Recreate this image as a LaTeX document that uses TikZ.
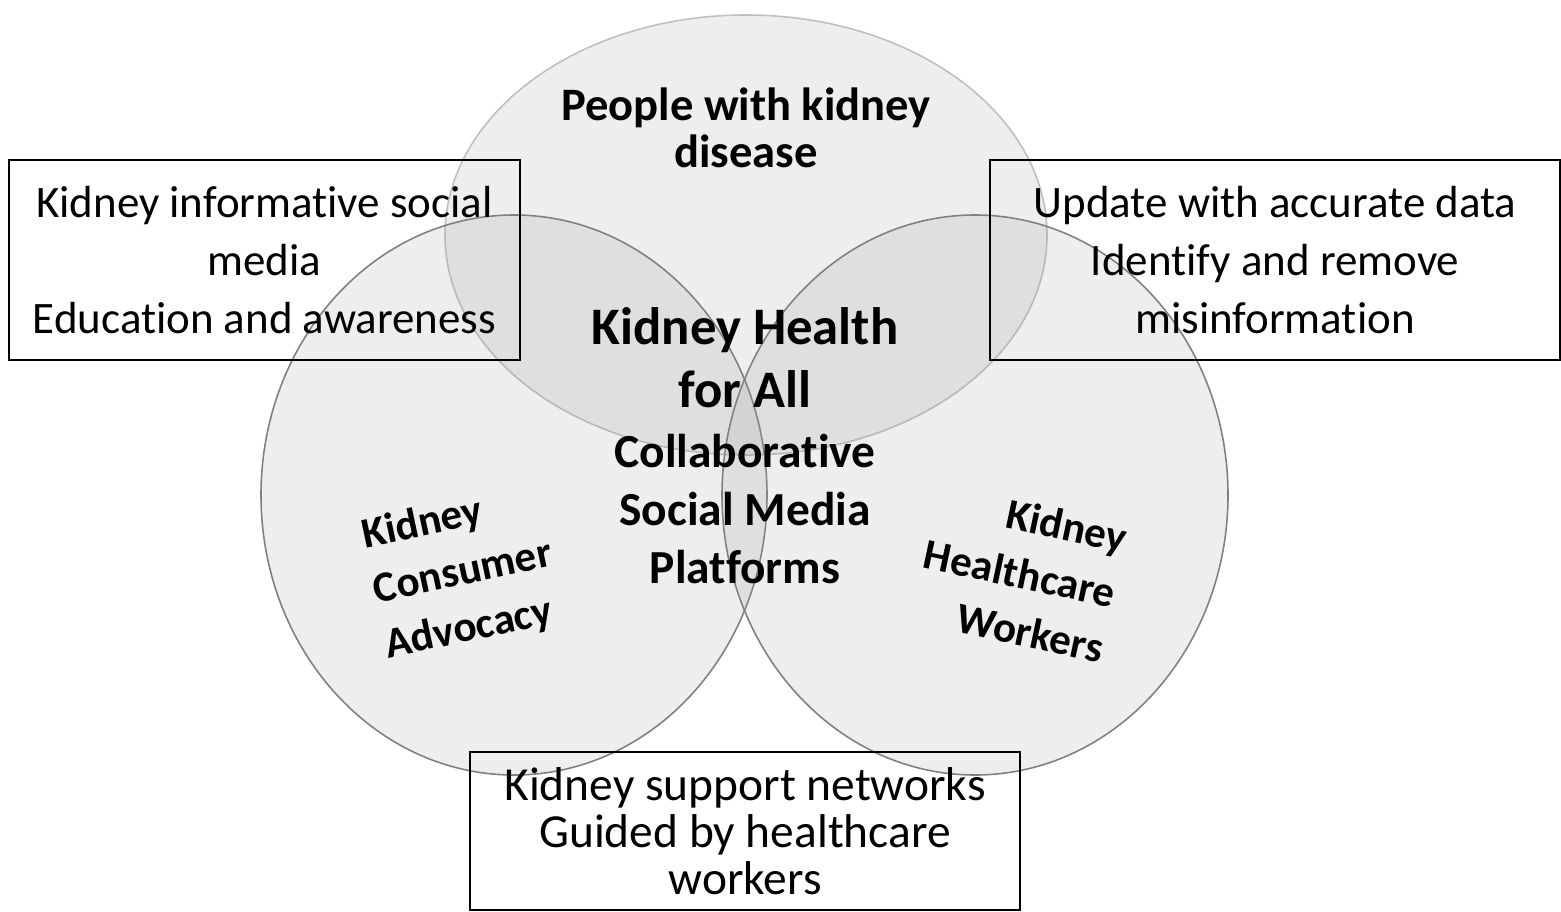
\documentclass[tikz,border=0pt]{standalone}
\usepackage{fontspec}
\setmainfont{Carlito}[Ligatures=NoCommon]

\begin{document}
\begin{tikzpicture}[x=0.02cm,y=-0.02cm,
  disc/.style={fill=black!40,fill opacity=0.17,draw=black!50,line width=0.9pt},
  infobox/.style={draw,line width=0.9pt,align=center,inner sep=0pt,
    font=\fontsize{25.6}{33}\selectfont},
  ring/.style={font=\bfseries\fontsize{24.5}{32}\selectfont}]
\useasboundingbox (0,0) rectangle (1561,912);

% the three groups
\draw[disc,draw=black!25] (746,235) ellipse [x radius=301, y radius=220];
\draw[disc] (514,495) ellipse [x radius=253, y radius=280];
\draw[disc] (975,495) ellipse [x radius=253, y radius=280];

\path (746,128) node[align=center,font=\bfseries\fontsize{26.5}{26.6}\selectfont] (people)
  {People with kidney\\disease};
\path (463,573) node[ring,align=left,rotate=12] (advocacy) {Kidney\\Consumer\\Advocacy};
\path (1020,573) node[ring,align=right,rotate=-12] (workers) {Kidney\\Healthcare\\Workers};

% middle
\path (745,358) node[align=center,font=\bfseries\fontsize{30}{35.7}\selectfont] (health)
  {Kidney Health\\for All};
\path (745,509) node[align=center,font=\bfseries\fontsize{27}{33}\selectfont] (platforms)
  {Collaborative\\Social Media\\Platforms};

% boxes
\path (264.5,260) node[infobox,minimum width=10.22cm,minimum height=4cm] (media)
  {Kidney informative social\\media\\Education and awareness};
\path (1275,260) node[infobox,minimum width=11.4cm,minimum height=4cm] (update)
  {Update with accurate data\\Identify and remove\\misinformation};
\path (745,831) node[infobox,minimum width=11cm,minimum height=3.16cm,
  font=\fontsize{27}{26.6}\selectfont] (support)
  {Kidney support networks\\Guided by healthcare\\workers};
\end{tikzpicture}
\end{document}
